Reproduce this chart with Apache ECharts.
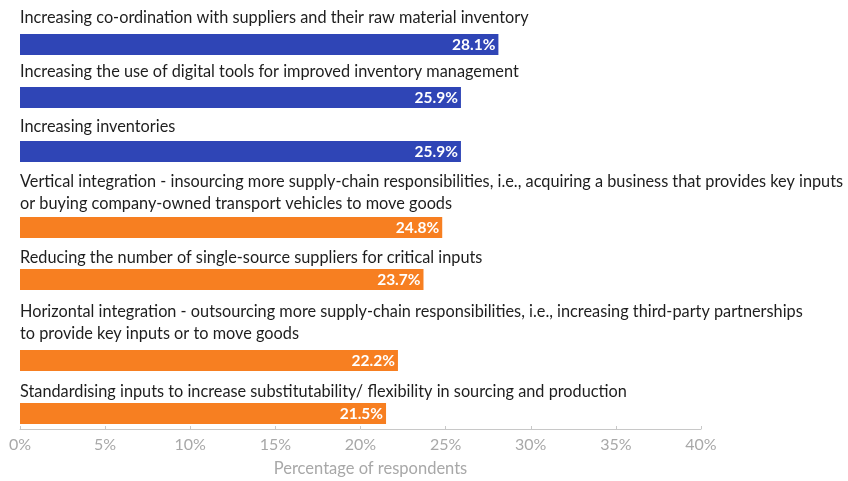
<!DOCTYPE html>
<html>
<head>
<meta charset="utf-8">
<script src="https://cdn.jsdelivr.net/npm/echarts@6/dist/echarts.min.js"></script>
<style>
  html, body { margin: 0; padding: 0; background: #fff; }
  #chart { width: 848px; height: 481px; }
</style>
</head>
<body>
<div id="chart"></div>
<script>
// data
var categories = [
  'Increasing co-ordination with suppliers and their raw material inventory',
  'Increasing the use of digital tools for improved inventory management',
  'Increasing inventories',
  'Vertical integration - insourcing more supply-chain responsibilities, i.e., acquiring a business that provides key inputs\nor buying company-owned transport vehicles to move goods',
  'Reducing the number of single-source suppliers for critical inputs',
  'Horizontal integration - outsourcing more supply-chain responsibilities, i.e., increasing third-party partnerships\nto provide key inputs or to move goods',
  'Standardising inputs to increase substitutability/ flexibility in sourcing and production'
];
var values = [28.1, 25.9, 25.9, 24.8, 23.7, 22.2, 21.5];
var groups = ['blue', 'blue', 'blue', 'orange', 'orange', 'orange', 'orange'];
var xTicks = [0, 5, 10, 15, 20, 25, 30, 35, 40];
var axisTitle = 'Percentage of respondents';

// layout (one grid per row, rows are not evenly spaced)
var barTop = [34, 87, 141, 217, 269, 350, 403];
var labelGap = [6, 4.5, 4, 3, 1, 6, 0.5];
var colors = { blue: '#2f45b6', orange: '#f77f21' };
var font = 'Lato';

var grids = [], xAxes = [], yAxes = [], series = [];
var last = categories.length - 1;

categories.forEach(function (name, i) {
  grids.push({ left: 20, right: 147, top: barTop[i], height: 21, containLabel: false });

  var isLast = i === last;
  xAxes.push({
    gridIndex: i,
    type: 'value',
    min: xTicks[0],
    max: xTicks[xTicks.length - 1],
    interval: xTicks[1] - xTicks[0],
    show: isLast,
    offset: 5,
    splitLine: { show: false },
    axisLine: { show: true, lineStyle: { color: '#c8c8c8', width: 1 } },
    axisTick: { show: true, inside: true, length: 3, lineStyle: { color: '#c8c8c8' } },
    axisLabel: {
      margin: 8,
      color: '#a8a8a8',
      fontFamily: font,
      fontSize: 16,
      formatter: '{value}%'
    },
    name: isLast ? axisTitle : '',
    nameLocation: 'middle',
    nameGap: 31,
    nameTextStyle: { color: '#a8a8a8', fontFamily: font, fontSize: 16.5, padding: [0, 0, 0, 20] }
  });

  yAxes.push({
    gridIndex: i,
    type: 'category',
    data: [name],
    axisLine: { show: false },
    axisTick: { show: false },
    axisLabel: { show: false },
    name: name,
    nameLocation: 'end',
    nameGap: labelGap[i],
    nameTextStyle: {
      align: 'left',
      verticalAlign: 'bottom',
      color: '#1e1e1e',
      fontFamily: font,
      fontSize: 16.3,
      lineHeight: 21.5
    }
  });

  series.push({
    type: 'bar',
    xAxisIndex: i,
    yAxisIndex: i,
    data: [values[i]],
    barWidth: 21,
    itemStyle: { color: colors[groups[i]] },
    label: {
      show: true,
      position: 'insideRight',
      distance: 3,
      color: '#fff',
      fontFamily: font,
      fontWeight: 'bold',
      fontSize: 15.5,
      formatter: function (p) { return p.value.toFixed(1) + '%'; }
    },
    animation: false
  });
});

var chart = echarts.init(document.getElementById('chart'));
chart.setOption({
  backgroundColor: '#fff',
  animation: false,
  grid: grids,
  xAxis: xAxes,
  yAxis: yAxes,
  series: series
});
</script>
</body>
</html>
